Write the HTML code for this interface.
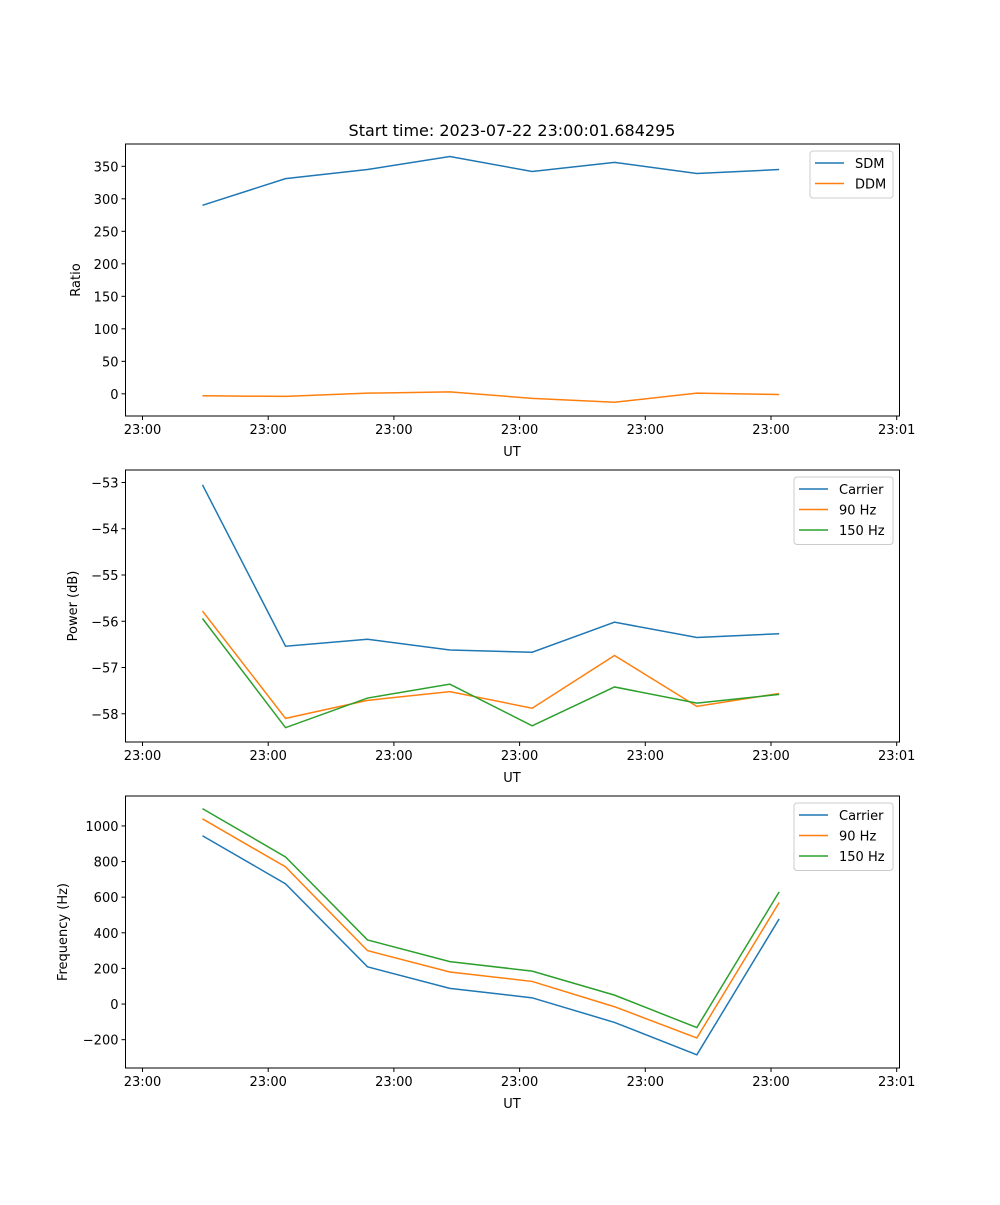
<!DOCTYPE html>
<html><head><meta charset="utf-8"><style>
body{margin:0;background:#fff;}
svg text{font-family:"DejaVu Sans","Liberation Sans",sans-serif;fill:#000;}
</style></head><body>
<svg id="fig" width="1000" height="1200" xmlns="http://www.w3.org/2000/svg">
<rect width="1000" height="1200" fill="#fff"/>
<text x="512" y="136" font-size="16" text-anchor="middle">Start time: 2023-07-22 23:00:01.684295</text>
</svg>
<script>
const times = [4.77, 11.38, 17.9, 24.45, 31.0, 37.55, 44.1, 50.65];
const xTickVals = [0, 10, 20, 30, 40, 50, 60];
const xTickLabels = ["23:00","23:00","23:00","23:00","23:00","23:00","23:01"];
const sdm = [290, 331, 345, 365, 342, 356, 339, 345];
const ddm = [-3, -4, 1, 3, -7, -13, 1, -1];
const powCarrier = [-53.05, -56.54, -56.39, -56.62, -56.67, -56.02, -56.35, -56.27];
const pow90 = [-55.78, -58.1, -57.71, -57.52, -57.88, -56.74, -57.84, -57.56];
const pow150 = [-55.94, -58.3, -57.66, -57.36, -58.26, -57.42, -57.77, -57.58];
const freqCarrier = [945, 675, 209, 88, 35, -103, -285, 478];
const freq90 = [1040, 770, 300, 180, 127, -15, -190, 570];
const freq150 = [1097, 826, 360, 238, 185, 50, -132, 630];
const ticks1 = [0, 50, 100, 150, 200, 250, 300, 350];
const ticks2 = [-58, -57, -56, -55, -54, -53];
const ticks3 = [-200, 0, 200, 400, 600, 800, 1000];

const NS = "http://www.w3.org/2000/svg";
const svg = document.getElementById('fig');
const L = 125.5, R = 899.5;
const xs = t => 142.5 + t * 12.57;
const C = {blue:"#1f77b4", orange:"#ff7f0e", green:"#2ca02c"};
function mk(tag, attrs, parent){const e=document.createElementNS(NS,tag);for(const k in attrs)e.setAttribute(k,attrs[k]);(parent||svg).appendChild(e);return e;}

function panel(id, top, bot, ymin, ymax, yticks, ylabel, ylabelX, series, legend){
  const g = mk('g', {});
  
  
  const ys = v => bot - (v - ymin) / (ymax - ymin) * (bot - top);
  series.forEach(s=>{
    const p = mk('polyline', {points: s.vals.map((v,i)=>xs(times[i])+','+ys(v)).join(' '), fill:'none', stroke:s.color, 'stroke-width':1.5}, g);
    
    
  });
  const fr = mk('rect', {x:L, y:top, width:R-L, height:bot-top, fill:'none', stroke:'#000', 'stroke-width':1}, g);
  
  
  xTickVals.forEach((t,i)=>{
    const x = xs(t);
    mk('line', {x1:x, x2:x, y1:bot, y2:bot+4, stroke:'#000'}, g);
    const tx = mk('text', {x:x, y:bot+18, 'font-size':13, 'text-anchor':'middle'}, g);
    tx.textContent = xTickLabels[i];
    
    
  });
  yticks.forEach(v=>{
    const y = ys(v);
    mk('line', {x1:L-4, x2:L, y1:y, y2:y, stroke:'#000'}, g);
    const tx = mk('text', {x:L-7, y:y+5, 'font-size':13, 'text-anchor':'end'}, g);
    tx.textContent = v < 0 ? '\u2212' + Math.abs(v) : String(v);
    
    
  });
  const xl = mk('text', {x:512, y:bot+40, 'font-size':13, 'text-anchor':'middle'}, g);
  xl.textContent = 'UT';
  
  
  const yl = mk('text', {x:ylabelX, y:(top+bot)/2, 'font-size':13, 'text-anchor':'middle', transform:`rotate(-90 ${ylabelX} ${(top+bot)/2})`}, g);
  yl.textContent = ylabel;
  
  
  const lg = mk('g', {}, g);
  
  
  mk('rect', {x:legend.x, y:legend.y, width:legend.w, height:series.length*20.5+6, rx:3, fill:'#fff', 'fill-opacity':0.8, stroke:'#ccc'}, lg);
  series.forEach((s,i)=>{
    const y = legend.y + 12 + i*20.5;
    mk('line', {x1:legend.x+5, x2:legend.x+34, y1:y, y2:y, stroke:s.color, 'stroke-width':1.5}, lg);
    const tx = mk('text', {x:legend.x+45, y:y+5, 'font-size':13}, lg);
    tx.textContent = s.name;
    
    
  });
}

panel('ratio-panel', 144, 416, -34.1, 384.3, ticks1, 'Ratio', 80,
  [{key:'sdm', name:'SDM', vals:sdm, color:C.blue},{key:'ddm', name:'DDM', vals:ddm, color:C.orange}],
  {x:810, y:151, w:83});
panel('power-panel', 470, 742, -58.61, -52.73, ticks2, 'Power (dB)', 77,
  [{key:'carrier', name:'Carrier', vals:powCarrier, color:C.blue},{key:'90hz', name:'90 Hz', vals:pow90, color:C.orange},{key:'150hz', name:'150 Hz', vals:pow150, color:C.green}],
  {x:794, y:477, w:99});
panel('frequency-panel', 796, 1068, -359, 1168, ticks3, 'Frequency (Hz)', 67,
  [{key:'carrier', name:'Carrier', vals:freqCarrier, color:C.blue},{key:'90hz', name:'90 Hz', vals:freq90, color:C.orange},{key:'150hz', name:'150 Hz', vals:freq150, color:C.green}],
  {x:794, y:803, w:99});
</script>
</body></html>
